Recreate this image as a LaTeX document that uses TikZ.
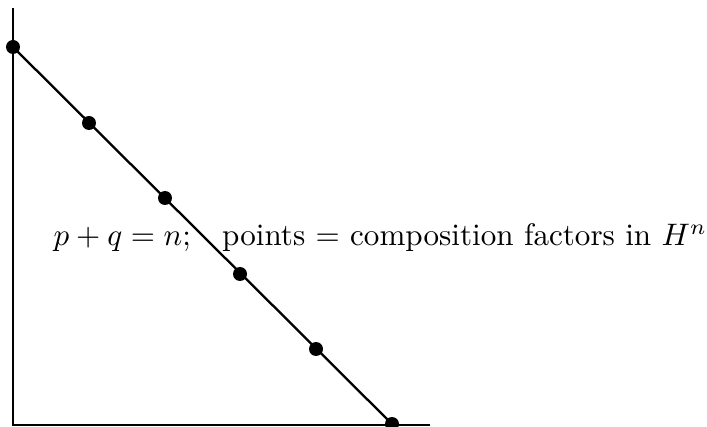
\documentclass[tikz,border=0pt]{standalone}
\begin{document}
\begin{tikzpicture}[x=1pt,y=1pt,
  axis/.style={line width=2.8pt},
  diag/.style={line width=2.3pt},
  pt/.style={circle,fill=black,inner sep=0pt,minimum size=14pt},
  bigtext/.style={anchor=base west,inner sep=0pt,scale=3.11,transform shape,font=\normalsize}]
\useasboundingbox (0,0) rectangle (707,426);
\clip (0,0) rectangle (707,426);
\coordinate (top) at (13,418);
\coordinate (origin) at (13,1);
\coordinate (right) at (430,1);
\draw[axis] (top) -- (origin) -- (right);
\node[pt] (d0) at (13,379) {};
\node[pt] (d1) at (89,303) {};
\node[pt] (d2) at (165,228) {};
\node[pt] (d3) at (240,152) {};
\node[pt] (d4) at (316,77) {};
\node[pt] (d5) at (392,2) {};
\draw[diag] (d0.center) -- (d5.center);
\node[bigtext] (lab) at (53,180)
  {$p+q=n$;\quad points $=$ composition factors in $H^n$};
\end{tikzpicture}
\end{document}
